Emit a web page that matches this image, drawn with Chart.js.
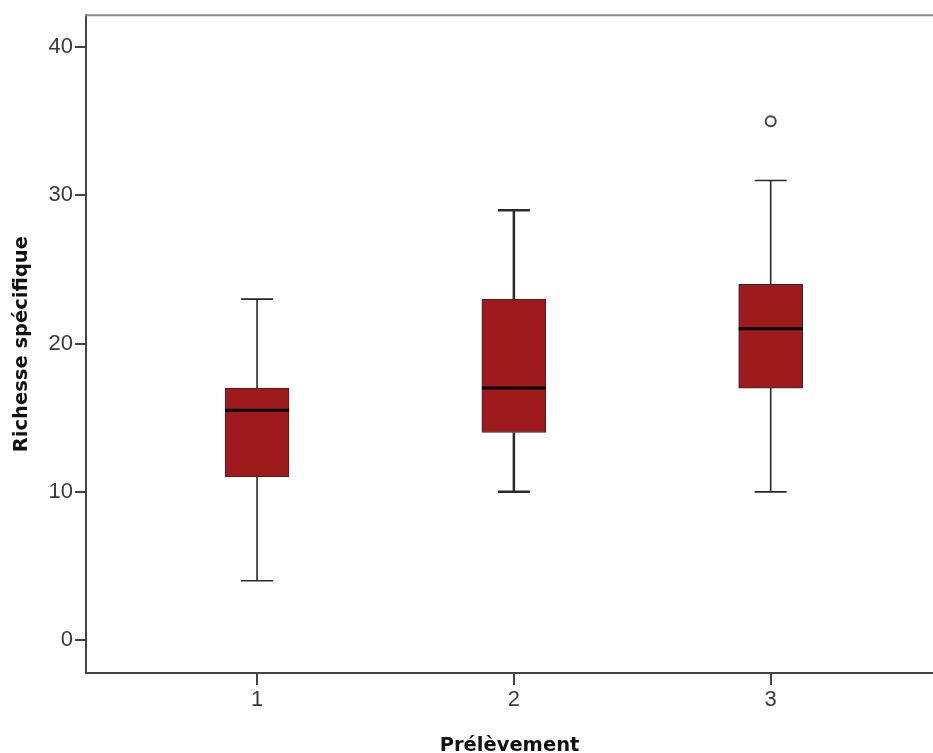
<!DOCTYPE html>
<html>
<head>
<meta charset="utf-8">
<script src="https://cdn.jsdelivr.net/npm/chart.js@4.4.1/dist/chart.umd.min.js"></script>
<style>
  html, body { margin: 0; padding: 0; background: #fff; overflow: hidden; }
  canvas { display: block; }
</style>
</head>
<body>
<canvas id="box-chart" width="933" height="753"></canvas>
<script>
// Boxplot data
const groups = [1, 2, 3];
const whiskerLow = [4, 10, 10];
const q1 = [11, 14, 17];
const medians = [15.5, 17, 21];
const q3 = [17, 23, 24];
const whiskerHigh = [23, 29, 31];
const outliers = [{ x: 3, y: 35 }];
const yTicks = [0, 10, 20, 30, 40];

const boxColor = '#9e1a1c';
const lineColor = '#2a2a2a';

// Whiskers, caps and medians drawn through the chart scales
const boxplotPlugin = {
  id: 'boxplotLines',
  beforeDatasetsDraw(chart) {
    const { ctx, scales: { x, y } } = chart;
    ctx.save();
    ctx.strokeStyle = lineColor;
    groups.forEach((g, i) => {
      const cx = x.getPixelForValue(g);
      const capHalf = 16;
      ctx.lineWidth = i === 1 ? 2.5 : 1.6;
      ctx.beginPath();
      ctx.moveTo(cx, y.getPixelForValue(q3[i]));
      ctx.lineTo(cx, y.getPixelForValue(whiskerHigh[i]));
      ctx.moveTo(cx, y.getPixelForValue(q1[i]));
      ctx.lineTo(cx, y.getPixelForValue(whiskerLow[i]));
      ctx.moveTo(cx - capHalf, y.getPixelForValue(whiskerHigh[i]));
      ctx.lineTo(cx + capHalf, y.getPixelForValue(whiskerHigh[i]));
      ctx.moveTo(cx - capHalf, y.getPixelForValue(whiskerLow[i]));
      ctx.lineTo(cx + capHalf, y.getPixelForValue(whiskerLow[i]));
      ctx.stroke();
    });
    ctx.restore();
  },
  afterDatasetsDraw(chart) {
    const { ctx, chartArea, scales: { x, y } } = chart;
    ctx.save();
    ctx.strokeStyle = '#000';
    ctx.lineWidth = 3;
    groups.forEach((g, i) => {
      const cx = x.getPixelForValue(g);
      const my = y.getPixelForValue(medians[i]);
      ctx.beginPath();
      ctx.moveTo(cx - 32, my);
      ctx.lineTo(cx + 32, my);
      ctx.stroke();
    });
    // top frame line
    ctx.strokeStyle = '#8a8a8a';
    ctx.lineWidth = 2;
    ctx.beginPath();
    ctx.moveTo(chartArea.left - 1, chartArea.top);
    ctx.lineTo(chartArea.right, chartArea.top);
    ctx.stroke();
    ctx.restore();
  }
};

const ctx = document.getElementById('box-chart').getContext('2d');
new Chart(ctx, {
  type: 'bar',
  data: {
    datasets: [{
      label: 'Boîtes',
      data: groups.map((g, i) => ({ x: g, y: [q1[i], q3[i]] })),
      backgroundColor: boxColor,
      borderColor: lineColor,
      borderWidth: 1,
      borderSkipped: false,
      barThickness: 64
    }, {
      type: 'scatter',
      label: 'Valeurs extrêmes',
      data: outliers,
      pointStyle: 'circle',
      pointRadius: 5,
      backgroundColor: '#fff',
      borderColor: '#444',
      borderWidth: 2
    }]
  },
  options: {
    responsive: false,
    animation: false,
    layout: { autoPadding: false, padding: { top: 13, left: 0, right: 0, bottom: 0 } },
    plugins: {
      legend: { display: false },
      tooltip: { enabled: false }
    },
    scales: {
      x: {
        type: 'linear',
        min: 0.334,
        max: 3.632,
        offset: false,
        afterBuildTicks: (scale) => { scale.ticks = groups.map(v => ({ value: v })); },
        afterFit: (scale) => { scale.height = 80; },
        grid: { offset: false, drawOnChartArea: false, drawTicks: true, tickLength: 12, color: '#444', lineWidth: 2 },
        border: { display: true, color: '#444', width: 2 },
        ticks: {
          padding: 2,
          color: '#3a3a3a',
          font: { family: 'Liberation Sans', size: 22 }
        },
        title: {
          display: true,
          text: 'Prélèvement',
          color: '#111',
          padding: { top: 0, bottom: -5 },
          font: { family: 'DejaVu Sans', weight: 'bold', size: 19.5 }
        }
      },
      y: {
        min: -2.22,
        max: 42.15,
        afterBuildTicks: (scale) => { scale.ticks = yTicks.map(v => ({ value: v })); },
        afterFit: (scale) => { scale.width = 86; },
        grid: { drawOnChartArea: false, drawTicks: true, tickLength: 11, color: '#444', lineWidth: 2 },
        border: { display: true, color: '#444', width: 2 },
        ticks: {
          padding: 2,
          color: '#3a3a3a',
          font: { family: 'Liberation Sans', size: 22 }
        },
        title: {
          display: true,
          text: 'Richesse spécifique',
          color: '#111',
          padding: { top: 10, bottom: 0 },
          font: { family: 'DejaVu Sans', weight: 'bold', size: 19.5 }
        }
      }
    }
  },
  plugins: [boxplotPlugin]
});
</script>
</body>
</html>
